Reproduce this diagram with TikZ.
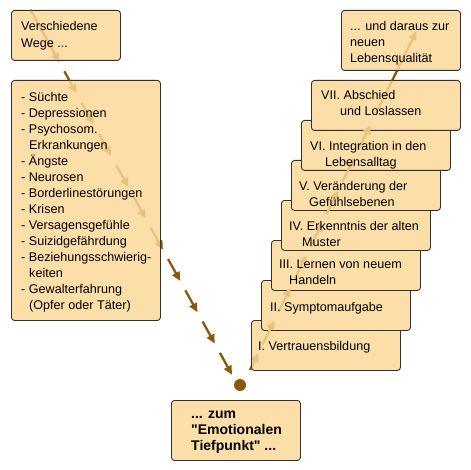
\documentclass[tikz,border=0pt]{standalone}
\usepackage{fontspec}
\setmainfont{Liberation Sans}
\newfontfamily\plainfont{Liberation Sans}
\usetikzlibrary{calc,arrows.meta}
\definecolor{boxfill}{RGB}{252,223,168}
\definecolor{boxline}{RGB}{50,50,50}
\definecolor{arrowc}{RGB}{140,88,8}
\definecolor{arrowf}{RGB}{233,194,128}
\newcommand\mystrut{\rule{0pt}{12pt}}
\newcommand\dq{{\plainfont\bfseries"}}
\begin{document}
\begin{tikzpicture}[x=1pt,y=-1pt,
  box/.style={draw=boxline, fill=boxfill, line width=0.9pt, rounded corners=3pt,
    anchor=north west, inner sep=0pt},
  txt/.style={anchor=north west, inner sep=0pt, align=left,
    font=\fontsize{12.6}{16}\selectfont},
  btxt/.style={anchor=north west, inner sep=0pt, align=left,
    font=\fontsize{14}{16}\selectfont\bfseries},
  seg/.style={line width=2.3pt, draw=arrowc, -{Triangle[length=9pt,width=8pt]}},
  fseg/.style={seg, draw=arrowf}]
\useasboundingbox (0,0) rectangle (470,470);
% chain end points
\coordinate (la) at (25,0);
\coordinate (lb) at (236,382);
\coordinate (ra) at (250,370);
\coordinate (rb) at (417,30);
% dark pass of the connectors
\draw[seg] ($(la)!0.026!(lb)$) -- ($(la)!0.1623!(lb)$);
\foreach \k [evaluate=\k as \e using 0.1623+0.0819*\k,
             evaluate=\k as \s using 0.1623+0.0819*\k-0.0576] in {1,...,10}
  \draw[seg] ($(la)!\s!(lb)$) -- ($(la)!\e!(lb)$);
\draw[seg] ($(ra)!0!(rb)$) -- ($(ra)!0.05!(rb)$);
\foreach \k [evaluate=\k as \e using 0.05+0.0958*\k,
             evaluate=\k as \s using 0.05+0.0958*\k-0.0706] in {1,...,7}
  \draw[seg] ($(ra)!\s!(rb)$) -- ($(ra)!\e!(rb)$);
\draw[seg] ($(ra)!0.756!(rb)$) -- ($(ra)!0.997!(rb)$);
% boxes
\node[box, minimum width=109pt, minimum height=50pt] (b0) at (11,10) {};
\node[box, minimum width=149pt, minimum height=240pt] (b1) at (11,80) {};
\node[box, minimum width=129pt, minimum height=60pt] (b2) at (171,400) {};
\node[box, minimum width=149pt, minimum height=50pt] (s1) at (251,320) {};
\node[box, minimum width=149pt, minimum height=50pt] (s2) at (261,280) {};
\node[box, minimum width=149pt, minimum height=50pt] (s3) at (271,240) {};
\node[box, minimum width=149pt, minimum height=50pt] (s4) at (281,200) {};
\node[box, minimum width=149pt, minimum height=50pt] (s5) at (291,160) {};
\node[box, minimum width=149pt, minimum height=50pt] (s6) at (301,120) {};
\node[box, minimum width=149pt, minimum height=50pt] (s7) at (311,80) {};
\node[box, minimum width=119pt, minimum height=60pt] (top) at (341,10) {};
% faint pass of the connectors, seen through the boxes
\begin{scope}
\clip[rounded corners=2pt]
  ($(b0.north west)+(1,1)$) rectangle ($(b0.south east)+(-1,-1)$)
  ($(b1.north west)+(1,1)$) rectangle ($(b1.south east)+(-1,-1)$)
  ($(s1.north west)+(1,1)$) rectangle ($(s1.south east)+(-1,-1)$)
  ($(s2.north west)+(1,1)$) rectangle ($(s2.south east)+(-1,-1)$)
  ($(s3.north west)+(1,1)$) rectangle ($(s3.south east)+(-1,-1)$)
  ($(s4.north west)+(1,1)$) rectangle ($(s4.south east)+(-1,-1)$)
  ($(s5.north west)+(1,1)$) rectangle ($(s5.south east)+(-1,-1)$)
  ($(s6.north west)+(1,1)$) rectangle ($(s6.south east)+(-1,-1)$)
  ($(s7.north west)+(1,1)$) rectangle ($(s7.south east)+(-1,-1)$)
  ($(top.north west)+(1,1)$) rectangle ($(top.south east)+(-1,-1)$);
\draw[fseg] ($(la)!0.026!(lb)$) -- ($(la)!0.1623!(lb)$);
\foreach \k [evaluate=\k as \e using 0.1623+0.0819*\k,
             evaluate=\k as \s using 0.1623+0.0819*\k-0.0576] in {1,...,10}
  \draw[fseg] ($(la)!\s!(lb)$) -- ($(la)!\e!(lb)$);
\draw[fseg] ($(ra)!0!(rb)$) -- ($(ra)!0.05!(rb)$);
\foreach \k [evaluate=\k as \e using 0.05+0.0958*\k,
             evaluate=\k as \s using 0.05+0.0958*\k-0.0706] in {1,...,7}
  \draw[fseg] ($(ra)!\s!(rb)$) -- ($(ra)!\e!(rb)$);
\draw[fseg] ($(ra)!0.756!(rb)$) -- ($(ra)!0.997!(rb)$);
\end{scope}
% end point
\node[circle, fill=arrowc, minimum size=12pt, inner sep=0pt] (dot) at (240,385) {};
% texts
\node[txt, font=\fontsize{12.6}{17}\selectfont] (b0t) at (21,18) {\mystrut Verschiedene\\\mystrut Wege ...};
\node[txt] (b1t) at (21,89) {\mystrut - Süchte\\\mystrut - Depressionen\\\mystrut - Psychosom.\\
  \mystrut\hspace*{8pt}Erkrankungen\\\mystrut - Ängste\\\mystrut - Neurosen\\
  \mystrut - Borderlinestörungen\\\mystrut - Krisen\\\mystrut - Versagensgefühle\\
  \mystrut - Suizidgefährdung\\\mystrut - Beziehungsschwierig-\\\mystrut\hspace*{8pt}keiten\\
  \mystrut - Gewalterfahrung\\\mystrut\hspace*{8pt}(Opfer oder Täter)};
\node[btxt] (b2t) at (191,406) {\mystrut ... zum\\\mystrut \dq Emotionalen\\\mystrut Tiefpunkt\dq{} ...};
\node[txt] (s1t) at (258,338) {\mystrut I. Vertrauensbildung};
\node[txt] (s2t) at (270,299) {\mystrut II. Symptomaufgabe};
\node[txt] (s3t) at (279,256) {\mystrut III. Lernen von neuem\\\mystrut\hspace*{10pt}Handeln};
\node[txt] (s4t) at (289,218) {\mystrut IV. Erkenntnis der alten\\\mystrut\hspace*{13pt}Muster};
\node[txt] (s5t) at (299,178) {\mystrut V. Veränderung der\\\mystrut\hspace*{10pt}Gefühlsebenen};
\node[txt] (s6t) at (310,138) {\mystrut VI. Integration in den\\\mystrut\hspace*{15pt}Lebensalltag};
\node[txt] (s7t) at (321,87) {\mystrut VII. Abschied\\\mystrut\hspace*{19pt}und Loslassen};
\node[txt] (topt) at (350,18) {\mystrut ... und daraus zur\\\mystrut neuen\\\mystrut Lebensqualität};
\end{tikzpicture}
\end{document}
